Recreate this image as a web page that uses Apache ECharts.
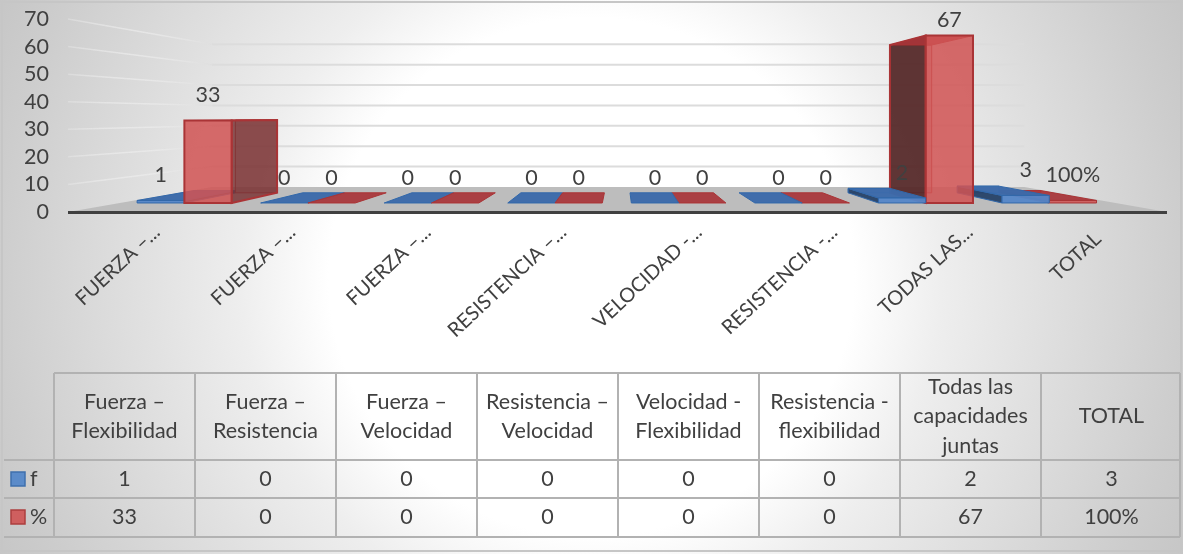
<!DOCTYPE html>
<html>
<head>
<meta charset="utf-8">
<style>
  html, body { margin: 0; padding: 0; background: #fff; }
  #chart {
    width: 1183px; height: 554px;
    background: radial-gradient(ellipse 74% 156% at 50% 50%, #ffffff 0%, #ffffff 30%, #eeeeee 40%, #e2e2e2 50%, #cdcdcd 68%, #bcbcbc 85%, #b0b0b0 100%);
  }
</style>
<script src="https://cdn.jsdelivr.net/npm/echarts@6/dist/echarts.min.js"></script>
</head>
<body>
<div id="chart"></div>
<script>
// Capacidades físicas: frecuencia y porcentaje por combinación
const axisLabels = ['FUERZA –...', 'FUERZA –...', 'FUERZA –...', 'RESISTENCIA –...', 'VELOCIDAD -...', 'RESISTENCIA -...', 'TODAS LAS...', 'TOTAL'];
const tableHeaders = ['Fuerza –\nFlexibilidad', 'Fuerza –\nResistencia', 'Fuerza –\nVelocidad', 'Resistencia –\nVelocidad', 'Velocidad -\nFlexibilidad', 'Resistencia -\nflexibilidad', 'Todas las\ncapacidades\njuntas', 'TOTAL'];
const seriesNames = ['f', '%'];
const fValues = [1, 0, 0, 0, 0, 0, 2, 3];
// The TOTAL cell of the % row stores the fraction 1, shown with a percent format
const pctValues = [33, 0, 0, 0, 0, 0, 67, 1];
const fLabels = ['1', '0', '0', '0', '0', '0', '2', '3'];
const pctLabels = ['33', '0', '0', '0', '0', '0', '67', '100%'];
const yTicks = [0, 10, 20, 30, 40, 50, 60, 70];

const FONT = 'Lato, "Open Sans", sans-serif';
const TEXT = '#404040';
const FONT_SIZE = 21.5;

// Simple one-point perspective shared by walls, floor and bars
const VX = 620, VY = 116;
const DEPTH_WALL = 0.261, DEPTH_NEAR = 0.094, DEPTH_FAR = 0.2;
const project = (x, y, t) => [x + (VX - x) * t, y + (VY - y) * t];

const BAR_SHARE = 0.3826;
const palettes = [
  { front: 'rgba(84,134,200,0.95)', top: 'rgba(60,106,170,0.97)', sideL: 'rgba(38,66,104,0.95)', sideR: 'rgba(38,66,104,0.95)', back: 'rgba(60,106,170,0.3)', edge: 'rgba(50,104,170,1)' },
  { front: 'rgba(208,84,84,0.86)', top: 'rgba(168,52,56,0.92)', sideL: 'rgba(84,40,40,0.92)', sideR: 'rgba(122,52,54,0.84)', back: 'rgba(170,60,60,0.25)', edge: 'rgba(170,52,54,1)' }
];
const barLabels = [fLabels, pctLabels];

function drawOrder(cat, s) {
  // Bars are painted from the outside towards the vanishing point
  return cat < 4 ? cat * 2 + s : (20 - cat) * 2 + (1 - s);
}

function renderBar(params, api) {
  const s = params.seriesIndex - 1;
  const cat = api.value(0), v = api.value(1);
  const band = api.size([1, 0])[0];
  const mid = api.coord([cat, 0])[0];
  const y0 = api.coord([cat, 0])[1];
  const y1 = api.coord([cat, v])[1];
  const w = band * BAR_SHARE;
  const xa = s === 0 ? mid - w : mid;
  const xb = xa + w;
  const p = palettes[s];
  const rightOfEye = (xa + xb) / 2 > VX;
  const rank = drawOrder(cat, s) * 10 + 100;

  const nbl = project(xa, y0, DEPTH_NEAR), nbr = project(xb, y0, DEPTH_NEAR);
  const ntl = project(xa, y1, DEPTH_NEAR), ntr = project(xb, y1, DEPTH_NEAR);
  const fbl = project(xa, y0, DEPTH_FAR), fbr = project(xb, y0, DEPTH_FAR);
  const ftl = project(xa, y1, DEPTH_FAR), ftr = project(xb, y1, DEPTH_FAR);

  const face = (points, fill, order, lw) => ({
    type: 'polygon', z2: rank + order,
    shape: { points },
    style: { fill, stroke: p.edge, lineWidth: lw }
  });
  const lw = v > 5 ? 2 : 1;
  const children = [];
  if (v > 0) {
    children.push(face([fbl, fbr, ftr, ftl], p.back, 0, 1));
    children.push(rightOfEye
      ? face([nbl, fbl, ftl, ntl], p.sideL, 1, lw)
      : face([nbr, fbr, ftr, ntr], p.sideR, 1, lw));
  }
  children.push(face([ntl, ntr, ftr, ftl], p.top, 2, 1));
  if (v > 0) children.push(face([nbl, nbr, ntr, ntl], p.front, 3, lw));

  const labelPos = project(mid + (s === 0 ? -w / 2 : w / 2), y1, DEPTH_NEAR);
  children.push({
    type: 'text', z2: 900,
    style: {
      text: barLabels[s][cat],
      x: labelPos[0], y: Math.max(labelPos[1] - 25, 20),
      align: 'center', verticalAlign: 'middle',
      fill: TEXT, font: FONT_SIZE + 'px ' + FONT
    }
  });
  return { type: 'group', children };
}

function renderRoom(params, api) {
  const grid = params.coordSys;
  const left = grid.x - 3, right = grid.x + grid.width + 5;
  const y0 = api.coord([0, 0])[1];
  const children = [{
    type: 'polygon', z2: 1,
    shape: { points: [[left, y0], project(left, y0, DEPTH_WALL), project(right, y0, DEPTH_WALL), [right, y0]] },
    style: { fill: '#bdbdbd' }
  }, {
    type: 'line', z2: 950,
    shape: { x1: left, y1: y0 + 0.5, x2: right, y2: y0 + 0.5 },
    style: { stroke: '#404040', lineWidth: 3 }
  }];
  yTicks.forEach(tick => {
    const y = api.coord([0, tick])[1];
    const a = project(left, y, DEPTH_WALL), b = project(right, y, DEPTH_WALL);
    if (tick > 0) {
      children.push({
        type: 'line', z2: 2,
        shape: { x1: a[0], y1: a[1], x2: b[0], y2: b[1] },
        style: { stroke: '#dcdcdc', lineWidth: 2 }
      });
      children.push({
        type: 'line', z2: 2,
        shape: { x1: left, y1: y, x2: a[0], y2: a[1] },
        style: {
          lineWidth: 1.5,
          stroke: { type: 'linear', x: 0, y: 0, x2: 1, y2: 0, colorStops: [{ offset: 0, color: 'rgba(255,255,255,0.22)' }, { offset: 1, color: '#dedede' }] }
        }
      });
    }
  });
  return { type: 'group', children };
}

// Data table under the plot
const TABLE_LEFT = 54, COL = 141, ROWS = [373, 460, 498, 537], TABLE_RIGHT = 1180, RULE_LEFT = 4;
const rule = (x1, y1, x2, y2) => ({
  type: 'line', silent: true,
  shape: { x1, y1, x2, y2 },
  style: { stroke: '#b2b2b2', lineWidth: 2 }
});
const cell = (text, x, y, align) => ({
  type: 'text', silent: true,
  style: { text, x, y, align: align || 'center', verticalAlign: 'middle', fill: TEXT, font: FONT_SIZE + 'px ' + FONT, lineHeight: 29.5 }
});
const key = (y, fill, stroke) => ({
  type: 'rect', silent: true,
  shape: { x: 11, y, width: 14, height: 14 },
  style: { fill, stroke, lineWidth: 1.5 }
});

const tableElements = [
  { type: 'rect', silent: true, shape: { x: 2, y: 2, width: 1179, height: 549 }, style: { fill: 'transparent', stroke: '#c6c6c6', lineWidth: 2 } },
  rule(TABLE_LEFT, ROWS[0], TABLE_RIGHT, ROWS[0]),
  rule(RULE_LEFT, ROWS[1], TABLE_RIGHT, ROWS[1]),
  rule(RULE_LEFT, ROWS[2], TABLE_RIGHT, ROWS[2]),
  rule(RULE_LEFT, ROWS[3], TABLE_RIGHT, ROWS[3]),
  rule(TABLE_RIGHT, ROWS[0], TABLE_RIGHT, ROWS[3]),
  key(472, '#5b8bc9', '#3f70ad'),
  key(510, '#cf5f5f', '#ad3f3f'),
  cell(seriesNames[0], 30, 479, 'left'),
  cell(seriesNames[1], 30, 517, 'left')
];
tableHeaders.forEach((h, i) => {
  const x = TABLE_LEFT + COL * i;
  const cx = x + COL / 2;
  tableElements.push(rule(x, ROWS[0], x, ROWS[3]));
  tableElements.push(cell(h, cx, (ROWS[0] + ROWS[1]) / 2));
  tableElements.push(cell(fLabels[i], cx, (ROWS[1] + ROWS[2]) / 2));
  tableElements.push(cell(pctLabels[i], cx, (ROWS[2] + ROWS[3]) / 2));
});

// The short last label hangs lower along its slant than the truncated ones
const slantedLabels = axisLabels.map(name =>
  name === 'TOTAL' ? { value: name, textStyle: { padding: [0, 10, 0, 0] } } : name);

const chart = echarts.init(document.getElementById('chart'), null, { renderer: 'canvas' });
chart.setOption({
  animation: false,
  backgroundColor: 'transparent',
  grid: [
    { left: 71, right: 21, top: 19, height: 193 },
    // Carries the slanted category labels, which sit slightly inside the floor's front edge
    { left: 89, width: 1084, top: 19, height: 193 }
  ],
  xAxis: [
    {
      type: 'category', data: axisLabels, gridIndex: 0,
      axisTick: { show: false },
      axisLabel: { show: false },
      axisLine: { show: false }
    },
    {
      type: 'category', data: slantedLabels, gridIndex: 1,
      axisTick: { show: false },
      axisLine: { show: false },
      axisLabel: { interval: 0, rotate: 43, margin: 17, color: TEXT, fontSize: 20, fontFamily: FONT, hideOverlap: false }
    }
  ],
  yAxis: [
    {
      type: 'value', min: 0, max: 70, interval: 10, gridIndex: 0,
      axisLine: { show: false }, axisTick: { show: false }, splitLine: { show: false },
      axisLabel: { margin: 22, color: TEXT, fontSize: FONT_SIZE, fontFamily: FONT, padding: [5, 0, 0, 0] }
    },
    { type: 'value', min: 0, max: 70, interval: 10, gridIndex: 1, show: false, splitLine: { show: false } }
  ],
  series: [
    { type: 'custom', name: 'room', coordinateSystem: 'cartesian2d', silent: true, renderItem: renderRoom, data: [[0, 0]], z: 1 },
    { type: 'custom', name: seriesNames[0], coordinateSystem: 'cartesian2d', renderItem: renderBar, data: fValues.map((v, i) => [i, v]), encode: { x: 0, y: 1 }, z: 1 },
    { type: 'custom', name: seriesNames[1], coordinateSystem: 'cartesian2d', renderItem: renderBar, data: pctValues.map((v, i) => [i, v]), encode: { x: 0, y: 1 }, z: 1 }
  ],
  graphic: { elements: tableElements }
});
</script>
</body>
</html>
